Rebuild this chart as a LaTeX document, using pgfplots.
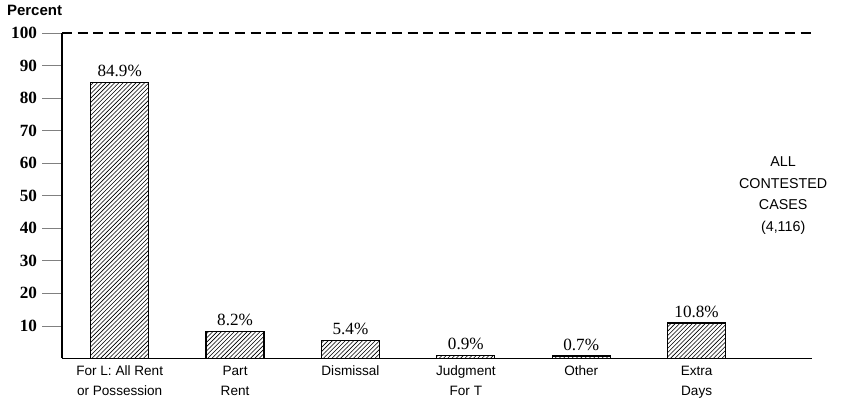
\documentclass[border=0pt]{standalone}
\usepackage{pgfplots}
\pgfplotsset{compat=1.18}
\usetikzlibrary{patterns}
\usepackage{fontspec}
\setmainfont{Liberation Serif}
\setsansfont{Liberation Sans}
\begin{document}
\begin{tikzpicture}
  \begin{axis}[
      scale only axis,
      width=525pt,
      height=227.5pt,
      ybar,
      bar width=40.6pt,
      xmin=-0.5, xmax=6,
      ymin=0, ymax=100,
      axis x line*=bottom,
      axis y line*=left,
      xtick=data,
      xtick style={draw=none},
      xticklabels={{For L: All Rent\\or Possession},{Part\\Rent},{Dismissal},{Judgment\\For T},{Other},{Extra\\Days}},
      xticklabel style={align=center, yshift=12pt, font=\sffamily\fontsize{9.5}{14}\selectfont},
      ytick={10,20,...,100},
      tick align=outside,
      major tick length=14pt,
      yticklabel style={font=\bfseries\fontsize{12}{12}\selectfont},
      /pgf/number format/assume math mode=true,
      clip=false,
      nodes near coords={\pgfmathprintnumber[fixed,fixed zerofill,precision=1]{\pgfplotspointmeta}\%},
      every node near coord/.append style={font=\fontsize{12}{12}\selectfont, yshift=0pt},
      axis line style={line width=0.9pt},
    ]
    \addplot[draw=black, line width=0.9pt, fill=white, postaction={pattern=north east lines}]
      coordinates {(0,84.9) (1,8.2) (2,5.4) (3,0.9) (4,0.7) (5,10.8)};
    \draw[dashed, line width=0.9pt, dash pattern=on 7pt off 4pt] (rel axis cs:0,1) -- (rel axis cs:1,1);
    \node[font=\sffamily\bfseries\fontsize{10.5}{11}\selectfont, anchor=south west]
      at ([xshift=-42pt, yshift=9pt]rel axis cs:0,1) {Percent};
    \node[font=\sffamily\fontsize{10}{15}\selectfont, align=center]
      at (axis cs:5.75,50) {ALL\\CONTESTED\\CASES\\(4,116)};
    \path ([xshift=-43.4pt, yshift=-31.5pt]rel axis cs:0,0) rectangle ([xshift=32.9pt, yshift=23.1pt]rel axis cs:1,1);
  \end{axis}
\end{tikzpicture}
\end{document}
